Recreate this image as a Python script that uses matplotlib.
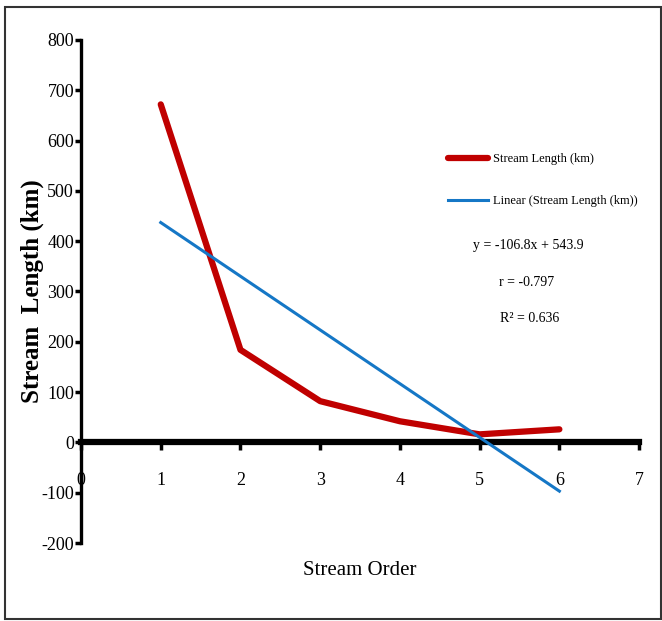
import numpy as np
import matplotlib.pyplot as plt
from matplotlib.patches import Rectangle

plt.rcParams['font.family'] = ['Liberation Serif', 'DejaVu Serif']
plt.rcParams['axes.unicode_minus'] = False

# stream order vs total stream length
order = [1, 2, 3, 4, 5, 6]
length_km = [672, 184, 82, 42, 16, 26]

# trendline as printed on the chart
slope = -106.8
intercept = 543.9
r_value = -0.797
r2_value = 0.636

x_ticks = [0, 1, 2, 3, 4, 5, 6, 7]
y_ticks = [-200, -100, 0, 100, 200, 300, 400, 500, 600, 700, 800]

fig = plt.figure(figsize=(6.62, 6.21), dpi=100)
ax = fig.add_axes([0.1224, 0.1256, 0.843, 0.81])

ax.plot(order, length_km, color='#C00000', lw=4.5, solid_capstyle='round',
        label='Stream Length (km)', zorder=3)
xs = np.array([order[0], order[-1]])
ax.plot(xs, slope * xs + intercept, color='#1577C6', lw=2.2,
        label='Linear (Stream Length (km))', zorder=4)

ax.set_xlim(0, 7)
ax.set_ylim(-200, 800)
ax.set_xticks(x_ticks)
ax.set_yticks(y_ticks)

for s in ['top', 'right']:
    ax.spines[s].set_visible(False)
ax.spines['left'].set_linewidth(2.4)
ax.spines['bottom'].set_position(('data', 0))
ax.spines['bottom'].set_linewidth(4.5)
ax.spines['bottom'].set_zorder(2)

ax.tick_params(axis='y', direction='out', length=4, width=2.5, labelsize=13, pad=1)
ax.tick_params(axis='x', direction='out', length=6, width=2.5, labelsize=13, pad=15)

ax.set_xlabel('Stream Order', fontsize=15)
ax.xaxis.set_label_coords(0.5, -0.035)
ax.set_ylabel('Stream  Length (km)', fontsize=18, fontweight='bold')
ax.yaxis.set_label_coords(-0.066, 0.5)

ax.legend(loc='upper left', bbox_to_anchor=(0.658, 0.775), frameon=False,
          borderaxespad=0, borderpad=0, fontsize=9, handlelength=3.2,
          handletextpad=0.4, labelspacing=2.4)

fig.text(528 / 662, 1 - 245 / 621, 'y = -106.8x + 543.9', ha='center', va='center', fontsize=10)
fig.text(527 / 662, 1 - 283 / 621, 'r = %.3f' % r_value, ha='center', va='center', fontsize=10)
fig.text(530 / 662, 1 - 318 / 621, 'R² = %.3f' % r2_value, ha='center', va='center', fontsize=10)

fig.patches.append(Rectangle((5 / 662, 2 / 621), 656 / 662, 612 / 621, transform=fig.transFigure,
                             fill=False, edgecolor='#333333', lw=1.5))

fig.savefig('out.png', dpi=100)
